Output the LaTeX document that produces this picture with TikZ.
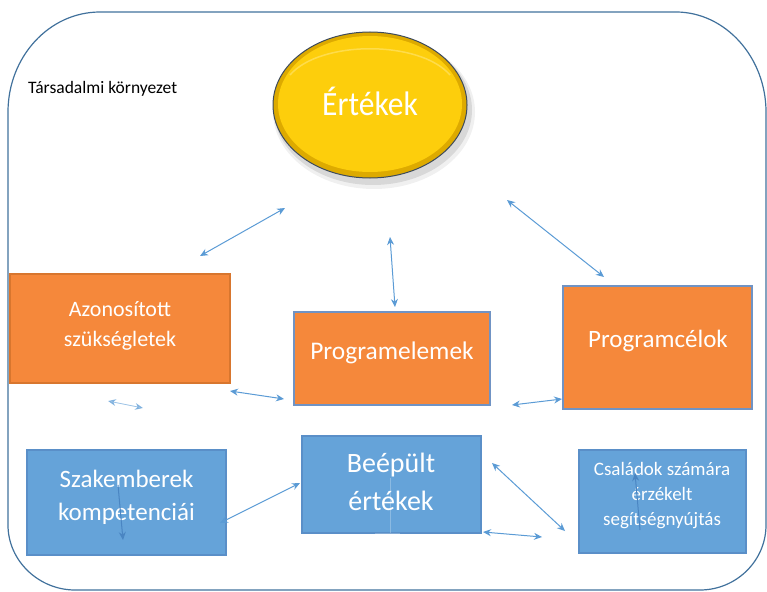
\documentclass[tikz,border=0pt]{standalone}
\usepackage{fontspec}
\setmainfont{Carlito}
\usetikzlibrary{arrows.meta,shadows}
\definecolor{orng}{HTML}{F5883B}
\definecolor{orngb}{HTML}{D8762E}
\definecolor{orngbl}{HTML}{7093C4}
\definecolor{bluef}{HTML}{65A3D9}
\definecolor{blueb}{HTML}{5A8FC8}
\definecolor{arr}{HTML}{5B9BD5}
\definecolor{arrd}{HTML}{4A85C2}
\definecolor{frame}{HTML}{41719C}
\definecolor{goldout}{HTML}{DDAA00}
\definecolor{goldin}{HTML}{FDCE0C}
\definecolor{goldhi}{HTML}{FFE266}
\definecolor{ellb}{HTML}{3E4B5C}
\begin{document}
\begin{tikzpicture}[x=1pt,y=-1pt,
  obox/.style={draw=orngbl, line width=1.1pt, fill=orng, rectangle, inner sep=0pt},
  bbox/.style={draw=blueb, line width=1.1pt, fill=bluef, rectangle, inner sep=0pt},
  txt/.style={text=white, align=center, inner sep=0pt},
  link/.style={arr, line width=1pt, {Stealth[length=8pt,width=7pt]}-{Stealth[length=8pt,width=7pt]}},
  onelink/.style={arrd, line width=1pt, -{Stealth[length=8pt,width=7pt]}}
]
\useasboundingbox (0,0) rectangle (767,591);
% outer frame
\draw[frame, line width=1.2pt] (8,112) .. controls (8,57) and (49,12) .. (100,12)
  -- (676,12) .. controls (725,12) and (766,57) .. (766,112)
  -- (766,525) .. controls (766,561) and (736,590) .. (700,590)
  -- (75,590) .. controls (39,590) and (8,561) .. (8,525) -- cycle;
\node[anchor=west, inner sep=0pt, font=\fontsize{17.5}{20}\selectfont] (env) at (28,89) {Társadalmi környezet};
% ellipse
\fill[black, opacity=0.10] (373,110) ellipse [x radius=99, y radius=75];
\fill[black, opacity=0.06] (374,112) ellipse [x radius=101, y radius=77];
\filldraw[fill=goldout, draw=ellb, line width=1pt] (370,105) ellipse [x radius=97, y radius=73];
\fill[goldin] (370,104) ellipse [x radius=92, y radius=68];
\draw[goldhi, line width=1.5pt, opacity=0.7] (290,75) .. controls (320,40) and (420,40) .. (450,75);
\node[txt, font=\fontsize{31.5}{36}\selectfont, yscale=1.08] (ert) at (370,101) {Értékek};
% orange boxes
\node[obox, draw=orngb, minimum width=220pt, minimum height=109pt] (az) at (120,328.5) {};
\node[txt, font=\fontsize{22}{30}\selectfont] (azt) at (120,326) {Azonosított\\szükségletek};
\node[obox, minimum width=196pt, minimum height=93pt] (pe) at (392,358.5) {};
\node[txt, font=\fontsize{25.4}{32}\selectfont] (pet) at (392,353) {Programelemek};
\node[obox, minimum width=189pt, minimum height=123pt] (pc) at (657.5,347.5) {};
\node[txt, font=\fontsize{25}{32}\selectfont] (pct) at (658,341) {Programcélok};
% blue boxes
\node[bbox, minimum width=199pt, minimum height=105pt] (sz) at (126.5,502.5) {};
\node[txt, font=\fontsize{25}{33}\selectfont] (szt) at (126.5,497) {Szakemberek\\kompetenciái};
\node[bbox, minimum width=179pt, minimum height=97pt] (be) at (391.5,484.5) {};
\node[txt, font=\fontsize{28}{38}\selectfont] (bet) at (391,482) {Beépült\\értékek};
\node[bbox, minimum width=167pt, minimum height=103pt] (cs) at (662.5,501.5) {};
\node[txt, font=\fontsize{19}{25}\selectfont] (cst) at (662,496) {Családok számára\\érzékelt\\segítségnyújtás};
% arrow end points
\coordinate (a1) at (200,256); \coordinate (a2) at (285,208);
\coordinate (b1) at (390,237); \coordinate (b2) at (395,307);
\coordinate (c1) at (507,200); \coordinate (c2) at (604,277);
\coordinate (d1) at (230,391); \coordinate (d2) at (284,399);
\coordinate (e1) at (108,401); \coordinate (e2) at (143,408);
\coordinate (f1) at (512,405); \coordinate (f2) at (562,399);
\coordinate (g1) at (220,523); \coordinate (g2) at (300,483);
\coordinate (h1) at (118,485); \coordinate (h2) at (123,540);
\coordinate (i1) at (492,463); \coordinate (i2) at (565,531);
\coordinate (j1) at (483,532); \coordinate (j2) at (542,537);
\coordinate (k1) at (640,530); \coordinate (k2) at (635,473);
\coordinate (m1) at (390,478); \coordinate (m2) at (390,533);
\coordinate (n1) at (375,533); \coordinate (n2) at (400,533);
% arrows
\draw[link] (a1) -- (a2);
\draw[link] (b1) -- (b2);
\draw[link] (c1) -- (c2);
\draw[link] (d1) -- (d2);
\draw[link, opacity=0.6, line width=0.8pt] (e1) -- (e2);
\draw[link] (f1) -- (f2);
\draw[link] (g1) -- (g2);
\draw[onelink] (h1) -- (h2);
\draw[link] (i1) -- (i2);
\draw[link] (j1) -- (j2);
\draw[onelink] (k1) -- (k2);
\draw[white, opacity=0.25, line width=1pt] (m1) -- (m2);
\draw[white, opacity=0.25, line width=1pt] (n1) -- (n2);
\end{tikzpicture}
\end{document}
